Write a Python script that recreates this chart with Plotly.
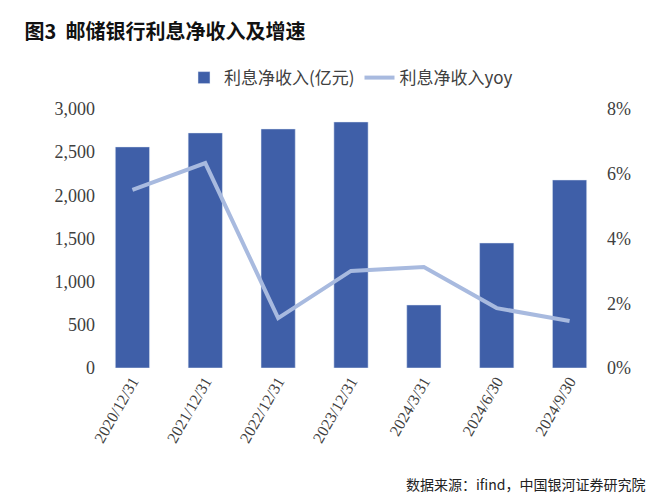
import plotly.graph_objects as go

categories = ["2020/12/31", "2021/12/31", "2022/12/31", "2023/12/31", "2024/3/31", "2024/6/30", "2024/9/30"]
net_interest = [2561, 2723, 2769, 2850, 730, 1448, 2178]
yoy = [0.055, 0.0633, 0.0154, 0.030, 0.0312, 0.0185, 0.0145]

font = "Noto Sans CJK SC"
serif = "Liberation Serif"
fig = go.Figure()
fig.add_trace(go.Bar(x=categories, y=net_interest, name="利息净收入(亿元)",
                     marker_color="#3F5FA8", width=0.47))
fig.add_trace(go.Scatter(x=categories, y=yoy, name="利息净收入yoy", yaxis="y2",
                         mode="lines", line=dict(color="#A8BADF", width=4)))
fig.update_layout(
    width=660, height=495, margin=dict(l=88, r=62, t=101, b=135),
    paper_bgcolor="white", plot_bgcolor="white",
    font=dict(family=font, size=15, color="#404040"),
    title=dict(text="<b>图3  邮储银行利息净收入及增速</b>", x=0.025, y=0.965,
               font=dict(size=20, color="#111")),
    legend=dict(orientation="h", x=0.5, xanchor="center", y=1.05, yanchor="bottom",
                font=dict(size=17, color="#404040")),
    xaxis=dict(tickangle=-60, showline=False, tickfont=dict(size=16, family=serif)),
    yaxis=dict(range=[0, 3000], dtick=500, tickformat=",", showgrid=False,
               zeroline=False, tickfont=dict(size=18, family=serif)),
    yaxis2=dict(range=[0, 0.08], dtick=0.02, tickformat=".0%", overlaying="y", side="right",
                showgrid=False, zeroline=False, tickfont=dict(size=18, family=serif)),
    annotations=[dict(text="数据来源：ifind，中国银河证券研究院", xref="paper", yref="paper",
                      x=1.08, y=-0.40, xanchor="right", yanchor="top", showarrow=False,
                      font=dict(size=14, color="#222"))],
)
fig.write_html("out.html")
